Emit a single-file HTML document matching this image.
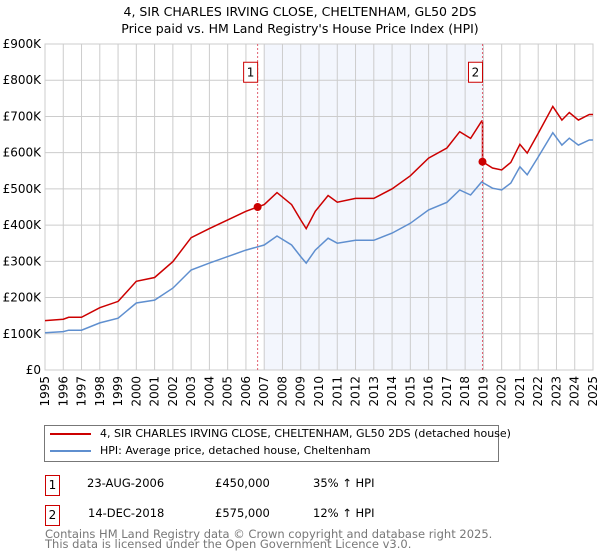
<!DOCTYPE html>
<html><head><meta charset="utf-8"><style>
body{margin:0;background:#fff;font-family:"DejaVu Sans","Liberation Sans",sans-serif;}
#wrap{position:relative;width:600px;height:560px;overflow:hidden;}
.t{position:absolute;font-size:12px;color:#000;white-space:nowrap;}
.box{position:absolute;width:13px;height:19px;border:1px solid #c00;font-size:12px;text-align:center;line-height:19px;}
</style></head><body><div id="wrap">
<div class="t" style="left:0;width:600px;text-align:center;top:4px;font-size:12.5px">4, SIR CHARLES IRVING CLOSE, CHELTENHAM, GL50 2DS</div>
<div class="t" style="left:0;width:600px;text-align:center;top:21px;font-size:12.5px">Price paid vs. HM Land Registry's House Price Index (HPI)</div>
<svg id="svg" width="600" height="420" style="position:absolute;left:0;top:0"></svg>
<div style="position:absolute;left:44px;top:425px;width:453px;height:35px;border:1px solid #777;"></div>
<div style="position:absolute;left:50px;top:433px;width:41px;height:2px;background:#c00"></div>
<div class="t" style="left:100px;top:427px;font-size:11px">4, SIR CHARLES IRVING CLOSE, CHELTENHAM, GL50 2DS (detached house)</div>
<div style="position:absolute;left:50px;top:450px;width:41px;height:2px;background:#5f8fcf"></div>
<div class="t" style="left:100px;top:444px;font-size:11px">HPI: Average price, detached house, Cheltenham</div>
<div class="box" style="left:45px;top:475px">1</div>
<div class="t" style="left:87px;top:476px;font-size:11.5px">23-AUG-2006</div>
<div class="t" style="left:215px;top:476px;font-size:11.5px">£450,000</div>
<div class="t" style="left:313px;top:476px;font-size:11.5px">35% ↑ HPI</div>
<div class="box" style="left:45px;top:505px">2</div>
<div class="t" style="left:88px;top:506px;font-size:11.5px">14-DEC-2018</div>
<div class="t" style="left:215px;top:506px;font-size:11.5px">£575,000</div>
<div class="t" style="left:313px;top:506px;font-size:11.5px">12% ↑ HPI</div>
<div class="t" style="left:45px;top:529px;font-size:11.5px;color:#777;line-height:10px">Contains HM Land Registry data © Crown copyright and database right 2025.<br>This data is licensed under the Open Government Licence v3.0.</div>
</div>
<script>
const hpiYears=[1995,1996,1996.3,1997,1998,1999,2000,2001,2002,2003,2004,2005,2006,2007,2007.7,2008.5,2009,2009.3,2009.8,2010.5,2011,2012,2013,2014,2015,2016,2017,2017.7,2018.3,2018.9,2019.5,2020,2020.5,2021,2021.4,2022,2022.8,2023.3,2023.7,2024.2,2024.8,2025];
const hpiValues=[103,106,110,110,130,143,185,193,226,276,295,313,331,345,370,345,313,295,331,364,350,358,358,378,405,442,463,497,483,519,502,497,516,561,539,588,655,621,640,621,635,635];
const saleYears=[2006.64,2018.95];
const salePrices=[450,575];
const yTicks=[0,100,200,300,400,500,600,700,800,900];
const yLabels=["£0","£100K","£200K","£300K","£400K","£500K","£600K","£700K","£800K","£900K"];
const xTicks=[1995,1996,1997,1998,1999,2000,2001,2002,2003,2004,2005,2006,2007,2008,2009,2010,2011,2012,2013,2014,2015,2016,2017,2018,2019,2020,2021,2022,2023,2024,2025];
const svg=document.getElementById('svg');const NS='http://www.w3.org/2000/svg';
const X0=45,X1=593,Y0=370,Y1=44;
const x=v=>X0+(v-1995)/30*(X1-X0);
const y=v=>Y0-v/900*(Y0-Y1);
function el(t,a){const e=document.createElementNS(NS,t);for(const k in a)e.setAttribute(k,a[k]);svg.appendChild(e);return e;}
function hpiAt(t){for(let i=0;i<hpiYears.length-1;i++){if(t<=hpiYears[i+1]){const f=(t-hpiYears[i])/(hpiYears[i+1]-hpiYears[i]);return hpiValues[i]+f*(hpiValues[i+1]-hpiValues[i]);}}return hpiValues[hpiValues.length-1];}
let r=el('rect',{x:x(2007),y:Y1,width:x(saleYears[1])-x(2007),height:Y0-Y1,fill:'#f3f6fd'});

yTicks.forEach((v,i)=>{let l=el('line',{x1:X0,x2:X1,y1:y(v),y2:y(v),stroke:'#ccc'});

let t=el('text',{x:X0-4,y:y(v)+4,'text-anchor':'end','font-size':12,'font-family':'DejaVu Sans,sans-serif'});t.textContent=yLabels[i];
});
xTicks.forEach(v=>{let l=el('line',{x1:x(v),x2:x(v),y1:Y1,y2:Y0,stroke:'#ccc'});

let t=el('text',{x:0,y:0,'text-anchor':'end','font-size':12,'font-family':'DejaVu Sans,sans-serif',transform:`translate(${x(v)+4},${Y0+6}) rotate(-90)`});t.textContent=v;
});
let b=el('rect',{x:X0,y:Y1,width:X1-X0,height:Y0-Y1,fill:'none',stroke:'#ccc'});

let hp=hpiYears.map((t,i)=>x(t).toFixed(1)+','+y(hpiValues[i]).toFixed(1)).join(' ');
let hl=el('polyline',{points:hp,fill:'none',stroke:'#5f8fcf','stroke-width':1.5});

const f1=salePrices[0]/hpiAt(saleYears[0]),f2=salePrices[1]/hpiAt(saleYears[1]);
let pts=[];
hpiYears.forEach((t,i)=>{if(t<saleYears[1])pts.push([t,hpiValues[i]*f1]);});
pts.push([saleYears[1],hpiAt(saleYears[1])*f1]);pts.push([saleYears[1],salePrices[1]]);
hpiYears.forEach((t,i)=>{if(t>saleYears[1])pts.push([t,hpiValues[i]*f2]);});
let pl=el('polyline',{points:pts.map(p=>x(p[0]).toFixed(1)+','+y(p[1]).toFixed(1)).join(' '),fill:'none',stroke:'#c00','stroke-width':1.5});

saleYears.forEach((t,i)=>{
let l=el('line',{x1:x(t),x2:x(t),y1:Y1,y2:Y0,stroke:'#e06070','stroke-dasharray':'2,2'});

let c=el('circle',{cx:x(t),cy:y(salePrices[i]),r:4,fill:'#c00'});

let bx=el('rect',{x:x(t)-14,y:y(822)-10,width:14,height:20,fill:'#fff',stroke:'#c00'});

let tx=el('text',{x:x(t)-7,y:y(822)+4,'text-anchor':'middle','font-size':12,'font-family':'DejaVu Sans,sans-serif'});tx.textContent=String(i+1);

});
</script></body></html>
